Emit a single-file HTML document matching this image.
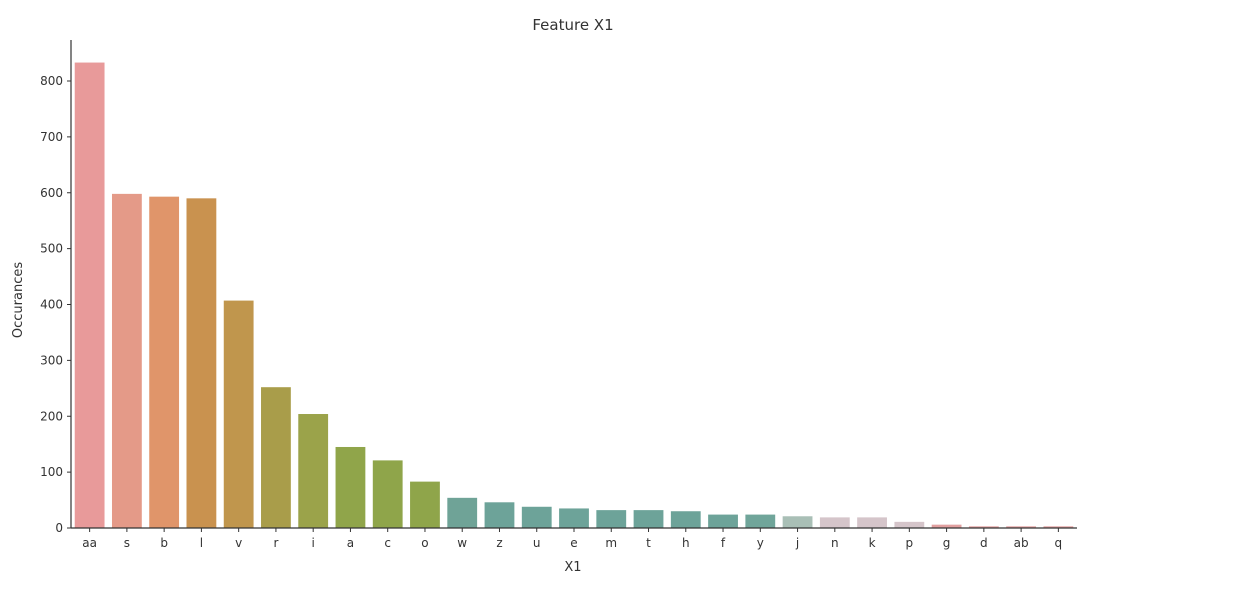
<!DOCTYPE html>
<html><head><meta charset="utf-8"><style>
body{margin:0;background:#fff;width:1239px;height:597px;overflow:hidden;font-family:"DejaVu Sans","Liberation Sans",sans-serif;}
text{fill:#333;}
</style></head><body>
<svg id="chart" width="1239" height="597" xmlns="http://www.w3.org/2000/svg">
<text x="573" y="30" text-anchor="middle" font-size="15">Feature X1</text>
<text transform="translate(22,300) rotate(-90)" text-anchor="middle" font-size="13">Occurances</text>
<text x="573" y="571" text-anchor="middle" font-size="13">X1</text>
<g id="bars"></g><g id="axes"></g>
</svg>
<script>
const categories=["aa","s","b","l","v","r","i","a","c","o","w","z","u","e","m","t","h","f","y","j","n","k","p","g","d","ab","q"];
const counts=[833,598,593,590,407,252,204,145,121,83,54,46,38,35,32,32,30,24,24,21,19,19,11,6,3,3,3];
const colors=["#e89a9a","#e49a88","#e0956a","#c9924f","#c0964d","#a99d4a","#9ba34a","#90a54a","#8fa54a","#8fa54a","#6fa397","#6da399","#6da399","#6da399","#6da399","#6da399","#6da399","#6da399","#70a59a","#a9bfb6","#d5c5ca","#d5c5ca","#d5c5ca","#e2a0a0","#e2a0a0","#e2a0a0","#e2a0a0"];
const yTicks=[0,100,200,300,400,500,600,700,800];
const X0=71,X1=1077,Y0=528,PX=0.55875;
const step=(X1-X0)/categories.length;
const xc=i=>X0+step*(i+0.5);
const y=v=>Y0-v*PX;
const NS="http://www.w3.org/2000/svg";
const bars=document.getElementById('bars'),axes=document.getElementById('axes');
function mk(tag,attrs,parent){const e=document.createElementNS(NS,tag);for(const k in attrs)e.setAttribute(k,attrs[k]);parent.appendChild(e);return e;}
categories.forEach((c,i)=>{
 const r=mk('rect',{x:xc(i)-step*0.4,y:y(counts[i]),width:step*0.8,height:counts[i]*PX,fill:colors[i]},bars);
 
 
 const t=mk('line',{x1:xc(i),x2:xc(i),y1:Y0,y2:Y0+4,stroke:'#333'},axes);
 const l=mk('text',{x:xc(i),y:Y0+19,'text-anchor':'middle','font-size':'12'},axes);
 l.textContent=c;
 
 
});
yTicks.forEach(v=>{
 mk('line',{x1:X0-4,x2:X0,y1:y(v),y2:y(v),stroke:'#333'},axes);
 const l=mk('text',{x:X0-8,y:y(v)+4,'text-anchor':'end','font-size':'12'},axes);
 l.textContent=v;
 
 
});
const ya=mk('line',{x1:X0,x2:X0,y1:40,y2:Y0,stroke:'#333','stroke-width':1.2},axes);


const xa=mk('line',{x1:X0,x2:X1,y1:Y0,y2:Y0,stroke:'#333','stroke-width':1.2},axes);


</script>
</body></html>
